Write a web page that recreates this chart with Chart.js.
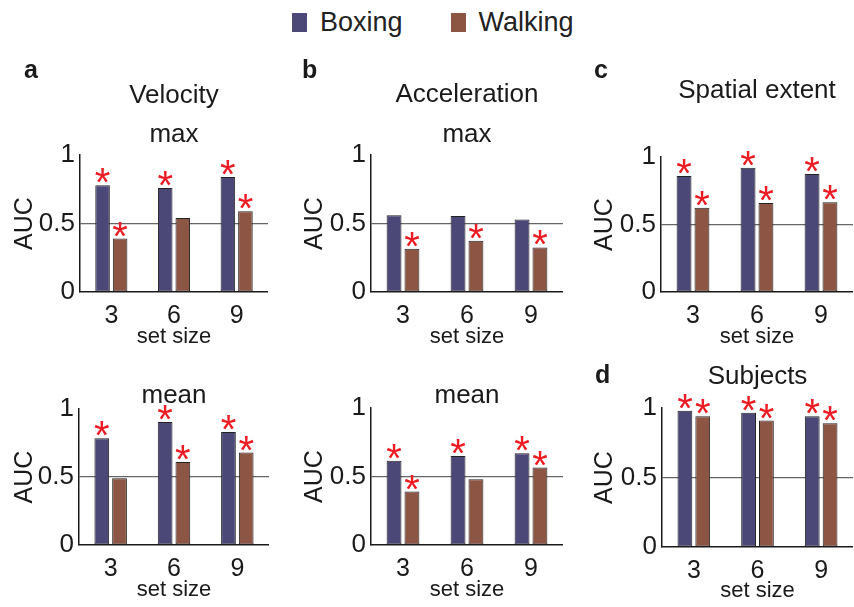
<!DOCTYPE html>
<html>
<head>
<meta charset="utf-8">
<script src="https://cdn.jsdelivr.net/npm/chart.js@4.4.1/dist/chart.umd.min.js"></script>
<style>
body{margin:0;background:#fff;width:854px;height:607px;position:relative;overflow:hidden;font-family:"Liberation Sans",Arial,sans-serif;}
canvas{position:absolute;}
#legend{position:absolute;left:292px;top:9px;display:flex;align-items:center;font-size:27px;line-height:27px;color:#222;}
.item{display:flex;align-items:center;margin-right:48px;}
.sq{width:15px;height:19px;margin-right:13px;}
</style>
</head>
<body>
<div id="legend"></div>
<script>
// ── data ─────────────────────────────────────────
const setSizes=["3","6","9"];
const seriesNames=["Boxing","Walking"];
const seriesColors=["#4b4878","#8c5544"];
const yTicks=[0,0.5,1];

// Velocity max
const velMaxBoxing=[0.78,0.76,0.84];
const velMaxWalking=[0.39,0.54,0.59];
const velMaxSigB=[1,1,1];
const velMaxSigW=[1,0,1];
// Velocity mean
const velMeanBoxing=[0.785,0.905,0.83];
const velMeanWalking=[0.49,0.61,0.68];
const velMeanSigB=[1,1,1];
const velMeanSigW=[0,1,1];
// Acceleration max
const accMaxBoxing=[0.56,0.555,0.53];
const accMaxWalking=[0.315,0.375,0.325];
const accMaxSigB=[0,0,0];
const accMaxSigW=[1,1,1];
// Acceleration mean
const accMeanBoxing=[0.615,0.65,0.67];
const accMeanWalking=[0.39,0.48,0.565];
const accMeanSigB=[1,1,1];
const accMeanSigW=[1,0,1];
// Spatial extent
const spatBoxing=[0.86,0.92,0.875];
const spatWalking=[0.625,0.66,0.665];
const spatSigB=[1,1,1];
const spatSigW=[1,1,1];
// Subjects
const subjBoxing=[0.98,0.965,0.94];
const subjWalking=[0.94,0.91,0.89];
const subjSigB=[1,1,1];
const subjSigW=[1,1,1];

const FONT="'Liberation Sans', Arial, sans-serif";
Chart.defaults.font.family=FONT;

// legend (html)
const leg=document.getElementById("legend");
seriesNames.forEach((n,i)=>{
  const it=document.createElement("div"); it.className="item";
  const sq=document.createElement("div"); sq.className="sq"; sq.style.background=seriesColors[i];
  const tx=document.createElement("span"); tx.textContent=n;
  it.appendChild(sq); it.appendChild(tx); leg.appendChild(it);
});

// red stars over significant bars
const starPlugin={id:"stars",afterDatasetsDraw(chart){
  const ctx=chart.ctx;
  ctx.save();
  ctx.fillStyle="#ec1c24"; ctx.font="40px "+FONT; ctx.textAlign="center"; ctx.textBaseline="alphabetic";
  const m=ctx.measureText("*");
  const d=m.actualBoundingBoxDescent||-16; // glyph bottom vs baseline
  chart.data.datasets.forEach((ds,i)=>{
    chart.getDatasetMeta(i).data.forEach((bar,j)=>{
      if(ds.sig[j]) ctx.fillText("*",bar.x,bar.y-2-d);
    });
  });
  ctx.restore();
}};

// panel letter + titles
const textPlugin={id:"panelText",afterDraw(chart,args,o){
  const ctx=chart.ctx, a=chart.chartArea;
  ctx.save();
  ctx.fillStyle="#1a1a1a"; ctx.textBaseline="alphabetic";
  ctx.font="bold 25px "+FONT; ctx.textAlign="left";
  ctx.fillText(o.letter,a.left+o.lx,a.top+o.ly);
  ctx.font="26px "+FONT; ctx.textAlign="center";
  o.titles.forEach((t,i)=>ctx.fillText(t,(a.left+a.right)/2,a.top+o.ty[i]));
  ctx.restore();
}};

// layout of the six panels
const panels=[
  {left:0,top:55,w:268,h:295,yw:80,pt:100,xh:58,letter:"a",lx:-56,ly:-77,titles:["Velocity","max"],ty:[-52,-13],b:velMaxBoxing,w2:velMaxWalking,sb:velMaxSigB,sw:velMaxSigW},
  {left:290,top:55,w:273,h:295,yw:81,pt:100,xh:58,letter:"b",lx:-69,ly:-77,titles:["Acceleration","max"],ty:[-53,-13],b:accMaxBoxing,w2:accMaxWalking,sb:accMaxSigB,sw:accMaxSigW},
  {left:580,top:55,w:273,h:295,yw:81,pt:102,xh:58,letter:"c",lx:-67,ly:-79,titles:["Spatial extent"],ty:[-59],b:spatBoxing,w2:spatWalking,sb:spatSigB,sw:spatSigW},
  {left:0,top:300,w:269,h:303,yw:79,pt:109,xh:58,letter:"",lx:0,ly:0,titles:["mean"],ty:[-6],b:velMeanBoxing,w2:velMeanWalking,sb:velMeanSigB,sw:velMeanSigW},
  {left:290,top:300,w:273,h:303,yw:81,pt:108,xh:58,letter:"",lx:0,ly:0,titles:["mean"],ty:[-5],b:accMeanBoxing,w2:accMeanWalking,sb:accMeanSigB,sw:accMeanSigW},
  {left:580,top:300,w:273,h:304,yw:82,pt:108,xh:57,letter:"d",lx:-67,ly:-25,titles:["Subjects"],ty:[-24],b:subjBoxing,w2:subjWalking,sb:subjSigB,sw:subjSigW}
];

panels.forEach(p=>{
  const cv=document.createElement("canvas");
  cv.width=p.w; cv.height=p.h;
  cv.style.left=p.left+"px"; cv.style.top=p.top+"px";
  cv.style.width=p.w+"px"; cv.style.height=p.h+"px";
  document.body.appendChild(cv);

  new Chart(cv,{
    type:"bar",
    data:{
      labels:setSizes,
      datasets:[
        {label:seriesNames[0],data:p.b,sig:p.sb,backgroundColor:seriesColors[0],borderColor:"#222",borderWidth:1,borderSkipped:false,barPercentage:0.83,categoryPercentage:0.56},
        {label:seriesNames[1],data:p.w2,sig:p.sw,backgroundColor:seriesColors[1],borderColor:"#222",borderWidth:1,borderSkipped:false,barPercentage:0.83,categoryPercentage:0.56}
      ]
    },
    options:{
      responsive:false,animation:false,devicePixelRatio:1,
      layout:{padding:{top:p.pt,left:0,right:0,bottom:0}},
      plugins:{
        legend:{display:false},tooltip:{enabled:false},
        panelText:{letter:p.letter,lx:p.lx,ly:p.ly,titles:p.titles,ty:p.ty}
      },
      scales:{
        x:{
          grid:{display:false,drawTicks:false},
          border:{display:true,color:"#1a1a1a",width:1.5},
          ticks:{font:{size:25},color:"#1a1a1a",padding:9},
          title:{display:true,text:"set size",font:{size:22},color:"#1a1a1a",padding:{top:0,bottom:0}},
          afterFit:s=>{s.height=p.xh;}
        },
        y:{
          min:0,max:1,
          afterBuildTicks:s=>{s.ticks=yTicks.map(v=>({value:v}));},
          grid:{drawTicks:false,lineWidth:1.2,color:c=>(c.tick&&c.tick.value===0.5)?"#666":"rgba(0,0,0,0)"},
          border:{display:true,color:"#1a1a1a",width:1.5},
          ticks:{callback:v=>String(v),font:{size:26},color:"#1a1a1a",padding:5},
          title:{display:true,text:"AUC",font:{size:25},color:"#1a1a1a",padding:{top:10,bottom:0}},
          afterFit:s=>{s.width=p.yw;}
        }
      }
    },
    plugins:[starPlugin,textPlugin]
  });
});
</script>
</body>
</html>
